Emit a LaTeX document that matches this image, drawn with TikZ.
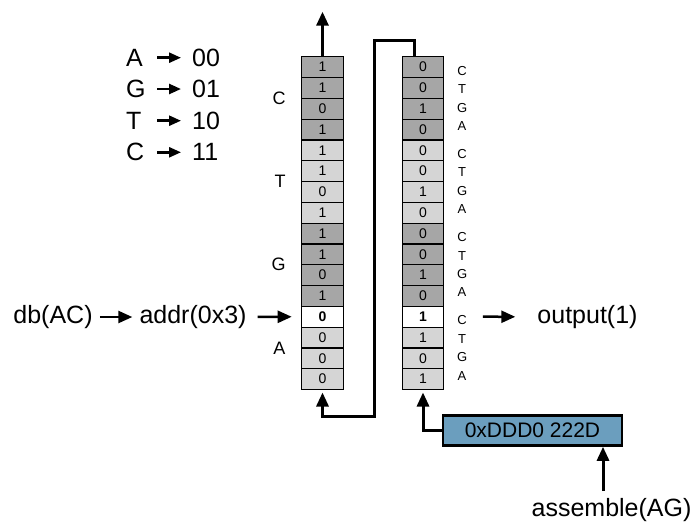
\documentclass[tikz,border=0pt]{standalone}
\usepackage{fontspec}
\setmainfont{Liberation Sans}
\usetikzlibrary{positioning, arrows.meta}

\definecolor{bitdark}{RGB}{166,166,166}
\definecolor{bitlight}{RGB}{213,213,213}
\definecolor{regblue}{RGB}{107,158,190}

\newcommand\txtbig{\fontsize{25}{30}\selectfont}
\newcommand\txtbit{\fontsize{14}{16}\selectfont}
\newcommand\txtgrp{\fontsize{18}{20}\selectfont}
\newcommand\txtnuc{\fontsize{13}{18.4}\selectfont}
\newcommand\txthex{\fontsize{21}{24}\selectfont}

\begin{document}
\begin{tikzpicture}[x=1pt, y=-1pt, >={Triangle[length=14pt,width=12pt]},
  cell/.style={draw, line width=1.2pt, minimum width=41.6pt, minimum height=20.8pt, inner sep=0pt, outer sep=0pt, font=\txtbit},
  hi/.style={cell, fill=bitdark}, lo/.style={cell, fill=bitlight}, sel/.style={cell, fill=white, font=\txtbit\bfseries},
  word/.style={font=\txtbig, inner sep=0pt},
  key/.style={word, anchor=west, text width=20pt, align=left},
  code/.style={word, anchor=west},
  keyarrow/.style={->, >={Triangle[length=12pt,width=10pt]}, line width=2.5pt, shorten <=11pt, shorten >=11pt},
  wire/.style={line width=3pt},
  group/.style={font=\txtgrp, inner sep=0pt},
  bases/.style={font=\txtnuc, inner sep=0pt, align=center},
  reg/.style={draw, line width=2.5pt, fill=regblue, minimum width=179pt, minimum height=30pt, inner sep=0pt, font=\txthex}]
  \useasboundingbox (0,0) rectangle (695,522);
  % encoding table
  \node[key] (ka) at (126,57.7) {A};  \node[code] (ca) at (192,57.7) {00};
  \node[key] (kg) at (126,89) {G};    \node[code] (cg) at (192,89) {01};
  \node[key] (kt) at (126,120.7) {T}; \node[code] (ct) at (192,120.7) {10};
  \node[key] (kc) at (126,152.3) {C}; \node[code] (cc) at (192,152.3) {11};
  \draw[keyarrow] (ka)--(ca);
  \draw[keyarrow] (kg)--(cg);
  \draw[keyarrow] (kt)--(ct);
  \draw[keyarrow] (kc)--(cc);
  % left column
  \node[hi] (l1) at (322.5,67.1) {1};
  \node[hi, below=0pt of l1] (l2) {1};
  \node[hi, below=0pt of l2] (l3) {0};
  \node[hi, below=0pt of l3] (l4) {1};
  \node[lo, below=0pt of l4] (l5) {1};
  \node[lo, below=0pt of l5] (l6) {1};
  \node[lo, below=0pt of l6] (l7) {0};
  \node[lo, below=0pt of l7] (l8) {1};
  \node[hi, below=0pt of l8] (l9) {1};
  \node[hi, below=0pt of l9] (l10) {1};
  \node[hi, below=0pt of l10] (l11) {0};
  \node[hi, below=0pt of l11] (l12) {1};
  \node[sel, below=0pt of l12] (l13) {0};
  \node[lo, below=0pt of l13] (l14) {0};
  \node[lo, below=0pt of l14] (l15) {0};
  \node[lo, below=0pt of l15] (l16) {0};
  \node[group, left=16pt of l3.north west] (gc) {C};
  \node[group, left=16pt of l7.north west] (gt) {T};
  \node[group, left=16pt of l11.north west] (gg) {G};
  \node[group, left=16pt of l15.north west] (ga) {A};
  % right column
  \node[hi] (r1) at (423,67.1) {0};
  \node[hi, below=0pt of r1] (r2) {0};
  \node[hi, below=0pt of r2] (r3) {1};
  \node[hi, below=0pt of r3] (r4) {0};
  \node[lo, below=0pt of r4] (r5) {0};
  \node[lo, below=0pt of r5] (r6) {0};
  \node[lo, below=0pt of r6] (r7) {1};
  \node[lo, below=0pt of r7] (r8) {0};
  \node[hi, below=0pt of r8] (r9) {0};
  \node[hi, below=0pt of r9] (r10) {0};
  \node[hi, below=0pt of r10] (r11) {1};
  \node[hi, below=0pt of r11] (r12) {0};
  \node[sel, below=0pt of r12] (r13) {1};
  \node[lo, below=0pt of r13] (r14) {1};
  \node[lo, below=0pt of r14] (r15) {0};
  \node[lo, below=0pt of r15] (r16) {1};
  \node[bases, right=13pt of r3.north east] (b1) {C\\T\\G\\A};
  \node[bases, right=13pt of r7.north east] (b2) {C\\T\\G\\A};
  \node[bases, right=13pt of r11.north east] (b3) {C\\T\\G\\A};
  \node[bases, right=13pt of r15.north east] (b4) {C\\T\\G\\A};
  % lookup
  \node[word] (db) at (53,317) {db(AC)};
  \node[word] (addr) at (193,317) {addr(0x3)};
  \draw[->, line width=2.5pt, shorten <=7pt, shorten >=7pt] (db)--(addr);
  \draw[->, line width=2.5pt, shorten <=11pt, shorten >=10pt] (addr)--(l13);
  \node[word] (out) at (587.5,317) {output(1)};
  \coordinate (tap) at ([xshift=39pt]r13.east);
  \draw[->, line width=2.5pt, shorten >=22pt] (tap)--(out);
  % shift wiring
  \coordinate (exit) at (322.5,11.7);
  \draw[->, wire] (l1.north)--(exit);
  \coordinate (looptop) at (374,40.7);
  \coordinate (loopbot) at (374,416.7);
  \draw[->, wire, shorten >=3pt] ([xshift=-9pt]r1.north) |- (looptop) -- (loopbot) -| (l16.south);
  \node[reg, anchor=north west] (reg) at (441.7,414.3) {0xDDD0 222D};
  \draw[->, wire, shorten >=3pt] (reg.west) -| (r16.south);
  \node[word, anchor=base] (asm) at (611.5,516.5) {assemble(AG)};
  \coordinate (feed) at (603,491);
  \draw[->, wire] (feed)--(feed |- reg.south);
\end{tikzpicture}
\end{document}
